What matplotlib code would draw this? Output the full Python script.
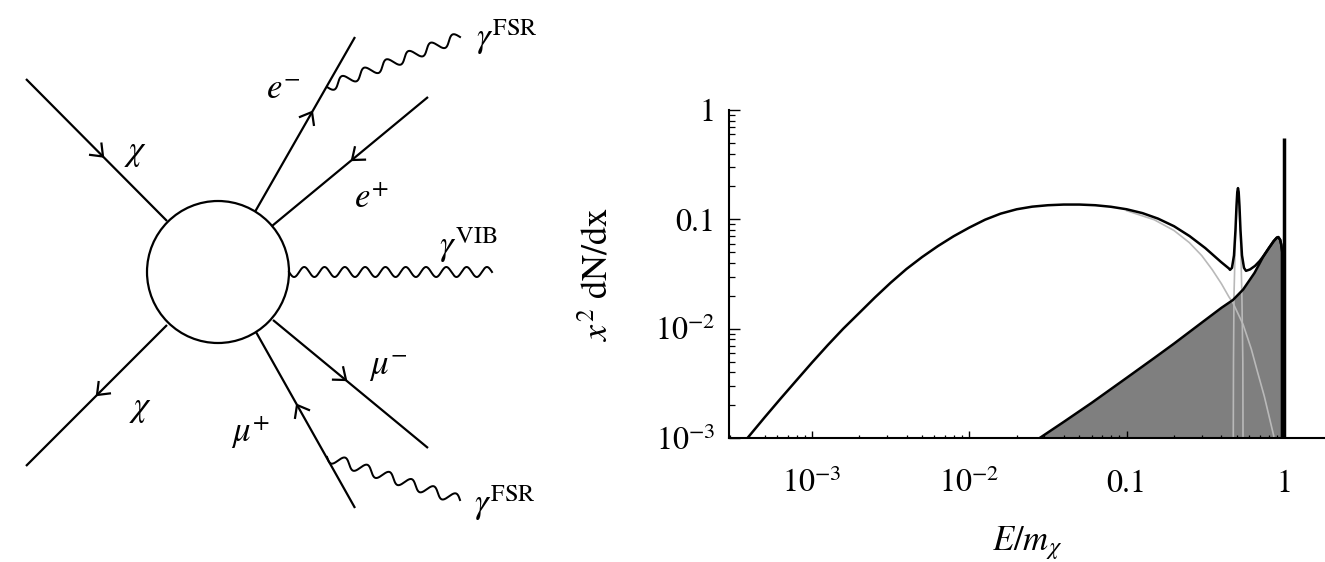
import numpy as np
import matplotlib
matplotlib.use('Agg')
import matplotlib.pyplot as plt
from matplotlib.ticker import FixedLocator, NullFormatter, LogLocator
from matplotlib.patches import Circle

plt.rcParams['font.family'] = ['STIXGeneral', 'DejaVu Serif']
plt.rcParams['mathtext.fontset'] = 'stix'

# ---------------- data ----------------
# total spectrum (black line)
total_x = [3.89e-4, 5.01e-4, 6.31e-4, 7.94e-4, 1.0e-3, 1.26e-3, 1.58e-3, 2.0e-3, 2.51e-3,
           3.16e-3, 3.98e-3, 5.01e-3, 6.31e-3, 7.94e-3, 0.01, 0.0126, 0.0158, 0.02, 0.0251,
           0.0316, 0.0398, 0.0501, 0.0631, 0.0794, 0.1, 0.126, 0.158, 0.2, 0.251, 0.316,
           0.398, 0.447, 0.454, 0.467, 0.481, 0.4915, 0.4989, 0.5048, 0.510, 0.5152, 0.5213,
           0.5291, 0.5408, 0.5568, 0.5733, 0.608, 0.654, 0.70, 0.735, 0.80, 0.86, 0.90,
           0.92, 0.945, 0.962, 0.97]
total_y = [1.0e-3, 1.55e-3, 2.29e-3, 3.35e-3, 4.90e-3, 7.08e-3, 0.0100, 0.01396, 0.01928,
           0.0263, 0.0351, 0.0452, 0.0569, 0.0700, 0.0841, 0.0993, 0.1127, 0.1236, 0.1306,
           0.1346, 0.1365, 0.1365, 0.1346, 0.1303, 0.1236, 0.1140, 0.1016, 0.0865, 0.0703,
           0.0546, 0.0407, 0.0355, 0.0345, 0.0360, 0.0468, 0.0794, 0.132, 0.178, 0.193,
           0.178, 0.132, 0.0794, 0.0468, 0.0360, 0.0338, 0.0348, 0.0375, 0.0415, 0.0455,
           0.0545, 0.0633, 0.0681, 0.0689, 0.0652, 0.0582, 0.0522]

# final-state radiation component (light grey)
fsr_x = [0.10, 0.15, 0.20, 0.25, 0.30, 0.35, 0.40, 0.447, 0.474, 0.55, 0.62, 0.673,
         0.75, 0.82, 0.86, 0.875]
fsr_y = [0.120, 0.099, 0.079, 0.0613, 0.0466, 0.0346, 0.0258, 0.0195, 0.0172, 0.0109,
         0.0065, 0.0042, 0.0024, 0.0014, 0.00105, 0.0008]

# narrow resonance component (light grey)
res_x = [0.476, 0.4775, 0.481, 0.4915, 0.5048, 0.510, 0.5152, 0.529, 0.540, 0.5475, 0.549]
res_y = [1e-3, 5e-3, 0.02, 0.07, 0.16, 0.175, 0.16, 0.07, 0.02, 5e-3, 1e-3]

# virtual internal bremsstrahlung (grey filled)
vib_x = [0.028, 0.04, 0.06, 0.10, 0.15, 0.20, 0.30, 0.40, 0.474, 0.55, 0.65, 0.735,
         0.80, 0.86, 0.90, 0.92, 0.945, 0.962, 0.97, 0.9705]
vib_y = [1.0e-3, 1.41e-3, 2.1e-3, 3.55e-3, 5.4e-3, 7.3e-3, 0.01135, 0.0155, 0.0183,
         0.0228, 0.0324, 0.0451, 0.0543, 0.0631, 0.0678, 0.0687, 0.0650, 0.0580,
         0.0520, 1e-3]

# gamma line at E = m_chi
line_x = 1.0
line_top = 0.55

xticks = [1e-3, 1e-2, 0.1, 1]
xticklabels = [r'$10^{-3}$', r'$10^{-2}$', '0.1', '1']
yticks = [1e-3, 1e-2, 0.1, 1]
yticklabels = [r'$10^{-3}$', r'$10^{-2}$', '0.1', '1']

W, H = 1325, 562
fig = plt.figure(figsize=(W / 100, H / 100), dpi=100)

# ---------------- Feynman-like diagram ----------------
axd = fig.add_axes([0, 0, 1, 1])
axd.set_xlim(0, W)
axd.set_ylim(H, 0)
axd.axis('off')

LW = 1.6
cx, cy, r = 218, 272, 71
axd.add_patch(Circle((cx, cy), r, fill=False, lw=LW, ec='k'))

def seg(p0, p1):
    axd.plot([p0[0], p1[0]], [p0[1], p1[1]], color='k', lw=LW, solid_capstyle='butt')

def chevron(tip, direction, L=13, ang=38):
    d = np.array(direction, float)
    d /= np.linalg.norm(d)
    n = np.array([-d[1], d[0]])
    a = np.deg2rad(ang)
    t = np.array(tip, float)
    p1 = t - L * (np.cos(a) * d + np.sin(a) * n)
    p2 = t - L * (np.cos(a) * d - np.sin(a) * n)
    axd.plot([p1[0], t[0], p2[0]], [p1[1], t[1], p2[1]], color='k', lw=LW)

def wavy(p0, p1, periods, amp):
    p0 = np.array(p0, float)
    p1 = np.array(p1, float)
    t = np.linspace(0, 1, 600)
    d = p1 - p0
    n = np.array([-d[1], d[0]]) / np.linalg.norm(d)
    pts = p0[None, :] + t[:, None] * d[None, :] + (amp * np.sin(2 * np.pi * periods * t))[:, None] * n[None, :]
    axd.plot(pts[:, 0], pts[:, 1], color='k', lw=LW * 0.9)

# fermion lines
seg((26, 79), (167, 221))
seg((167, 325), (26, 466))
seg((255.3, 211.3), (355, 37))
seg((272, 226), (428, 97))
seg((273, 320), (428, 448))
seg((256, 332), (355, 508))

chevron((103, 156.5), (141, 142))
chevron((97, 395), (-141, 141))
chevron((312, 112), (99.7, -174.3))
chevron((352, 160), (-156, 129))
chevron((346, 380), (155, 128))
chevron((297, 405), (-99, -176))

# photons
wavy((289, 272), (492, 272), 10, 5)
wavy((327, 87), (460, 37), 6, 5)
wavy((327, 457), (460, 500), 6, 5)

FS = 25
axd.text(136, 153, r'$\chi$', fontsize=FS, ha='center', va='center')
axd.text(141, 409, r'$\chi$', fontsize=FS, ha='center', va='center')
axd.text(283, 91, r'$e^{-}$', fontsize=FS, ha='center', va='center')
axd.text(372, 200, r'$e^{+}$', fontsize=FS, ha='center', va='center')
axd.text(468, 245, r'$\gamma^{\mathrm{VIB}}$', fontsize=FS, ha='center', va='center')
axd.text(507, 37, r'$\gamma^{\mathrm{FSR}}$', fontsize=FS, ha='center', va='center')
axd.text(505, 503, r'$\gamma^{\mathrm{FSR}}$', fontsize=FS, ha='center', va='center')
axd.text(388, 368, r'$\mu^{-}$', fontsize=FS, ha='center', va='center')
axd.text(251, 432, r'$\mu^{+}$', fontsize=FS, ha='center', va='center')

# ---------------- spectrum plot ----------------
x0, x1 = 729, 1325
y0, y1 = 110, 438
ax = fig.add_axes([x0 / W, (H - y1) / H, (x1 - x0) / W, (y1 - y0) / H])
ax.patch.set_alpha(0)
ax.set_xscale('log')
ax.set_yscale('log')
ax.set_xlim(10 ** (-3 - 83 / 157.3), 10 ** (41 / 157.3))
ax.set_ylim(1e-3, 1)

ax.fill_between(vib_x, vib_y, 1e-4, color='#7f7f7f', lw=0, zorder=1)
ax.plot(fsr_x, fsr_y, color='#b9b9b9', lw=1.2, zorder=2)
ax.plot(res_x, res_y, color='#b9b9b9', lw=1.2, zorder=2)
ax.plot(vib_x, vib_y, color='k', lw=1.8, zorder=3)
ax.plot(total_x, total_y, color='k', lw=1.8, zorder=4)
ax.vlines(line_x, 1e-4, line_top, color='k', lw=2.5, zorder=5)

for s in ['top', 'right']:
    ax.spines[s].set_visible(False)
for s in ['left', 'bottom']:
    ax.spines[s].set_linewidth(1.5)

ax.xaxis.set_major_locator(FixedLocator(xticks))
ax.set_xticklabels(xticklabels)
ax.yaxis.set_major_locator(FixedLocator(yticks))
ax.set_yticklabels(yticklabels)
ax.xaxis.set_minor_locator(LogLocator(base=10, subs=np.arange(2, 10), numticks=30))
ax.yaxis.set_minor_locator(LogLocator(base=10, subs=np.arange(2, 10), numticks=30))
ax.xaxis.set_minor_formatter(NullFormatter())
ax.yaxis.set_minor_formatter(NullFormatter())

ax.tick_params(axis='x', which='major', direction='in', length=5, width=1.0,
               labelsize=23, pad=39)
ax.tick_params(axis='x', which='minor', direction='in', length=2.5, width=0.9)
ax.tick_params(axis='y', which='major', direction='in', length=8, width=1.0,
               labelsize=23, pad=10)
ax.tick_params(axis='y', which='minor', direction='in', length=4, width=0.9)
for lbl in ax.get_xticklabels():
    lbl.set_va('baseline')

ax.set_ylabel(r'$x^2\ \mathrm{dN/dx}$', fontsize=26)
ax.yaxis.set_label_coords(-0.19, 0.5)
ax.set_xlabel(r'$E/m_{\chi}$', fontsize=25)
ax.xaxis.set_label_coords(0.5, -0.262)

fig.savefig('out.png', dpi=100)
